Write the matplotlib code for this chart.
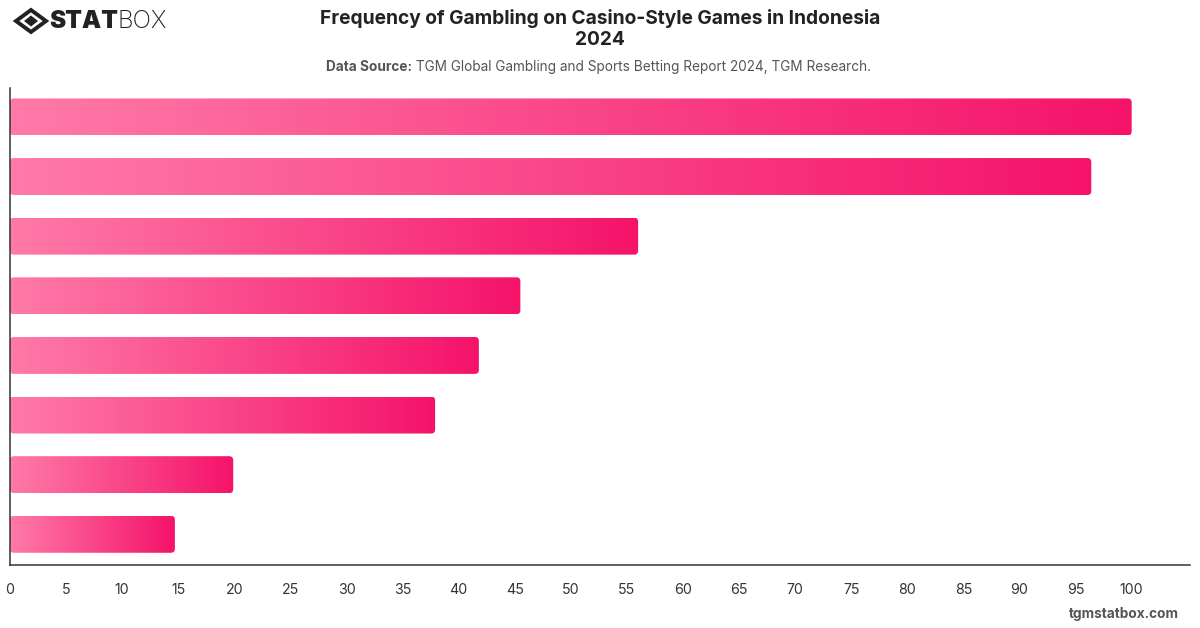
import matplotlib
matplotlib.use("Agg")
import matplotlib.pyplot as plt
import numpy as np
from matplotlib.patches import FancyBboxPatch, Polygon
from matplotlib.colors import LinearSegmentedColormap

plt.rcParams["font.family"] = ["Inter", "DejaVu Sans"]

# data (categories are not labelled in the picture)
categories = ["Bar 1", "Bar 2", "Bar 3", "Bar 4", "Bar 5", "Bar 6", "Bar 7", "Bar 8"]
values = [100.0, 96.4, 56.0, 45.5, 41.8, 37.9, 19.9, 14.7]
x_ticks = list(range(0, 101, 5))

TITLE = "Frequency of Gambling on Casino-Style Games in Indonesia\n2024"
SOURCE_LABEL = "Data Source:"
SOURCE_TEXT = " TGM Global Gambling and Sports Betting Report 2024, TGM Research."

W, H = 1200, 628
fig = plt.figure(figsize=(W / 100, H / 100), dpi=100)
fig.patch.set_facecolor("white")

ax_left, ax_right, ax_top, ax_bot = 10, 1190, 88, 565
ax = fig.add_axes([ax_left / W, 1 - ax_bot / H, (ax_right - ax_left) / W, (ax_bot - ax_top) / H])

xmax = 105.2
n = len(values)
ax.set_xlim(0, xmax)
ax.set_ylim(n - 0.5, -0.5)

cmap = LinearSegmentedColormap.from_list("pinkgrad", ["#ff7aa8", "#f5136a"])
grad = np.linspace(0, 1, 256).reshape(1, -1)

bar_h = 0.62
px_per_x = (ax_right - ax_left) / xmax
px_per_y = (ax_bot - ax_top) / n
aspect = px_per_x / px_per_y
r = 4 / px_per_x

for i, v in enumerate(values):
    y0 = i - bar_h / 2 - 0.015
    patch = FancyBboxPatch((0, y0), v, bar_h,
                           boxstyle=f"round,pad=0,rounding_size={r}",
                           mutation_aspect=aspect,
                           facecolor="none", edgecolor="none")
    ax.add_patch(patch)
    im = ax.imshow(grad, cmap=cmap, aspect="auto", extent=(0, v, y0 + bar_h, y0),
                   interpolation="bicubic", zorder=2)
    im.set_clip_path(patch)

ax.set_xlim(0, xmax)
ax.set_ylim(n - 0.5, -0.5)
ax.set_yticks([])
ax.set_xticks(x_ticks)
ax.set_xticklabels([str(t) for t in x_ticks])
ax.tick_params(axis="x", length=0, pad=13, labelsize=10.2, labelcolor="#333333")
for s in ["top", "right"]:
    ax.spines[s].set_visible(False)
for s in ["left", "bottom"]:
    ax.spines[s].set_color("#333333")
    ax.spines[s].set_linewidth(1.1)

# title and source
fig.text(600 / W, 1 - 29 / H, TITLE, ha="center", va="center", fontsize=13.8,
         fontweight="bold", color="#222222", linespacing=1.2)
t1 = fig.text(326 / W, 1 - 67 / H, SOURCE_LABEL, ha="left", va="center", fontsize=9.8,
              fontweight="bold", color="#555555")
fig.canvas.draw()
bb = t1.get_window_extent()
fig.text(bb.x1 / W, 1 - 67 / H, SOURCE_TEXT, ha="left", va="center", fontsize=9.8,
         color="#555555")

# logo
cx, cy = 31, 21
outer = Polygon([(cx - 15, cy), (cx, cy - 11), (cx + 15, cy), (cx, cy + 11)], closed=True,
                facecolor="none", edgecolor="#222222", linewidth=2.8)
inner = Polygon([(cx - 7, cy), (cx, cy - 5.5), (cx + 7, cy), (cx, cy + 5.5)], closed=True,
                facecolor="#222222", edgecolor="none")
for p in (outer, inner):
    p.set_transform(fig.transFigure)
    p.set_xy(np.array([[x / W, 1 - y / H] for x, y in p.get_xy()]))
    fig.add_artist(p)
s1 = fig.text(49 / W, 1 - 21 / H, "STAT", ha="left", va="center", fontsize=17.5,
              fontweight="black", color="#222222")
fig.canvas.draw()
bb = s1.get_window_extent()
fig.text(bb.x1 / W, 1 - 21 / H, "BOX", ha="left", va="center", fontsize=17.5,
         fontweight="light", color="#222222")

# footer
fig.text(1179 / W, 1 - 614 / H, "tgmstatbox.com", ha="right", va="center", fontsize=9.8,
         fontweight="bold", color="#555555")

fig.savefig("out.png", dpi=100, facecolor="white")
